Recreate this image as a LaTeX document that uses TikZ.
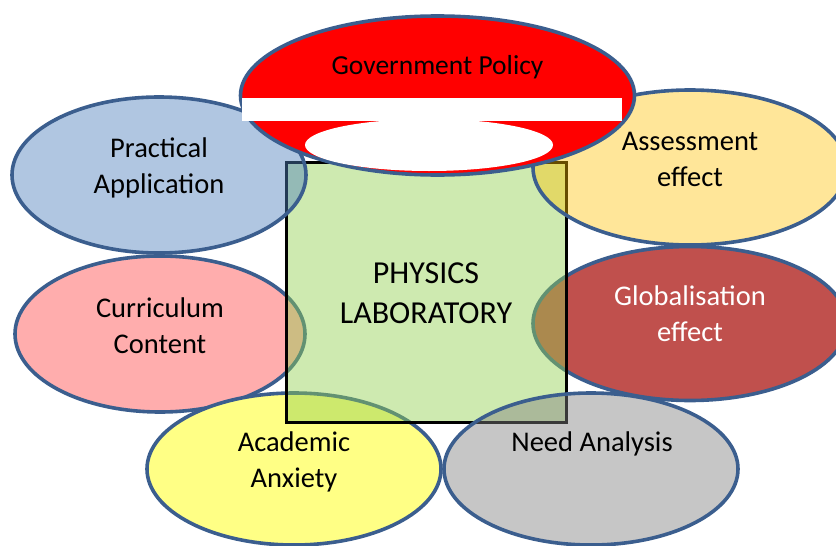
\documentclass[tikz,border=0pt]{standalone}
\usepackage{fontspec}
\setmainfont{Carlito}
\usetikzlibrary{shapes.geometric}
\definecolor{bordc}{HTML}{3B5E8E}
\definecolor{govred}{HTML}{FF0000}
\definecolor{pracblue}{HTML}{4F81BD}
\definecolor{currpink}{HTML}{FFADAD}
\definecolor{globred}{HTML}{C0504D}
\definecolor{acadyel}{HTML}{FFFF85}
\definecolor{needgrey}{HTML}{808080}
\definecolor{assessor}{HTML}{FFC000}
\definecolor{sqgreen}{HTML}{92D050}
\tikzset{
  bubble/.style={ellipse, draw=bordc, line width=3.6pt, inner sep=0pt},
  lbl/.style={align=center, font=\fontsize{28.5}{36}\selectfont, text=black},
  biglbl/.style={align=center, font=\fontsize{32}{40}\selectfont, text=black},
  sqbox/.style={draw=black, line width=3pt, fill=sqgreen, fill opacity=0.45, draw opacity=1, inner sep=0pt}
}
\begin{document}
\begin{tikzpicture}[x=1pt,y=-1pt]
\useasboundingbox (0,0) rectangle (836,546);
\clip (0,0) rectangle (836,546);
% lower layer
\node[bubble, fill=currpink, minimum width=290pt, minimum height=156pt] (curr) at (160,334) {};
\node[bubble, fill=globred, minimum width=314pt, minimum height=154pt] (glob) at (690,323.5) {};
\node[bubble, fill=acadyel, minimum width=294pt, minimum height=152pt] (acad) at (294,469) {};
% central square
\node[sqbox, minimum width=280pt, minimum height=260pt] (lab) at (426,292) {};
% upper layer (semi-transparent fills)
\node[bubble, fill=pracblue, fill opacity=0.45, minimum width=294pt, minimum height=156pt] (prac) at (159,175) {};
\node[bubble, fill=assessor, fill opacity=0.4, minimum width=314pt, minimum height=155pt] (assess) at (690,167.5) {};
\node[bubble, fill=needgrey, fill opacity=0.45, minimum width=294pt, minimum height=152pt] (need) at (591,469) {};
% government policy
\node[bubble, fill=govred, minimum width=394pt, minimum height=159pt] (gov) at (437.5,95.5) {};
\fill[white] (242,97.5) rectangle (622,120.5);
\node[ellipse, fill=white, inner sep=0pt, minimum width=248pt, minimum height=52pt] (govhole) at (429,145) {};
% labels
\node[lbl, font=\fontsize{27.5}{36}\selectfont] (govt) at (437.5,67) {Government Policy};
\node[lbl] (pract) at (159,168) {Practical\\Application};
\node[lbl] (currt) at (160,326) {Curriculum\\Content};
\node[lbl] (assesst) at (690,159.5) {Assessment\\effect};
\node[lbl, text=white] (globt) at (690,314) {Globalisation\\effect};
\node[lbl] (acadt) at (294,462) {Academic\\Anxiety};
\node[lbl] (needt) at (592,443.5) {Need Analysis};
\node[biglbl] (labt) at (426,293) {PHYSICS\\LABORATORY};
\end{tikzpicture}
\end{document}
